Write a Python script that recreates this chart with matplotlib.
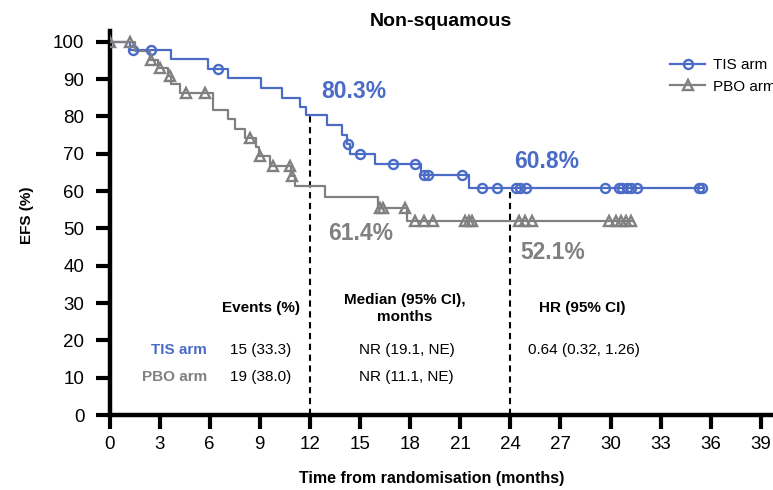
import matplotlib
matplotlib.use("Agg")
import matplotlib.pyplot as plt
from matplotlib.lines import Line2D
import numpy as np

# Kaplan-Meier steps
tis_times = [0, 1.25, 3.7, 5.9, 7.1, 9.05, 10.3, 11.4, 11.75, 13.05, 13.9, 14.2, 14.4, 15.9, 18.65, 21.5]
tis_surv = [100, 97.8, 95.3, 92.7, 90.2, 87.6, 85.0, 82.5, 80.3, 77.7, 75.0, 72.6, 69.9, 67.2, 64.3, 60.8]
tis_end = 35.6
tis_censor = [1.4, 2.5, 6.5, 14.3, 15.0, 17.0, 18.3, 18.85, 19.05, 21.1, 22.3, 23.2,
              24.35, 24.6, 24.95, 29.7, 30.5, 30.7, 31.0, 31.2, 31.6, 35.3, 35.5]

pbo_times = [0, 1.5, 2.4, 2.9, 3.5, 3.7, 4.2, 6.2, 7.1, 7.5, 8.1, 8.8, 8.95, 9.6, 10.85, 11.1, 12.9, 16.1, 17.8]
pbo_surv = [100, 97.6, 95.2, 92.9, 90.7, 88.6, 86.2, 81.8, 79.3, 76.6, 74.2, 71.8, 69.4, 66.6, 63.9, 61.4, 58.5, 55.4, 52.1]
pbo_end = 31.3
pbo_censor = [0.0, 1.25, 2.5, 3.0, 3.6, 4.6, 5.7, 8.4, 9.0, 9.8, 10.8, 10.9, 16.2, 16.4, 17.7,
              18.3, 18.85, 19.4, 21.3, 21.5, 21.7, 24.5, 24.9, 25.3, 29.9, 30.3, 30.6, 30.9, 31.2]

landmarks = [12, 24]
tis_landmark = [80.3, 60.8]
pbo_landmark = [61.4, 52.1]

x_ticks = list(range(0, 40, 3))
y_ticks = list(range(0, 101, 10))

table_header = ["Events (%)", "Median (95% CI),\nmonths", "HR (95% CI)"]
arm_names = ["TIS arm", "PBO arm"]
events = ["15 (33.3)", "19 (38.0)"]
medians = ["NR (19.1, NE)", "NR (11.1, NE)"]
hr_text = "0.64 (0.32, 1.26)"

BLUE = "#4A6CC6"
GRAY = "#808080"

plt.rcParams["font.family"] = ["Liberation Sans", "DejaVu Sans"]


def surv_at(times, surv, t):
    idx = np.searchsorted(times, t, side="right") - 1
    return np.asarray(surv)[idx]


fig = plt.figure(figsize=(7.73, 4.90), dpi=100)
# x: 16.7 px per month from x=109.5 px; y: 3.733 px per % from y=415 px
ax = fig.add_axes([109.5 / 773, 75 / 490, 40 * 16.7 / 773, 103 * 3.733 / 490])

for times, surv, end, cens, color, marker, ms in [
    (tis_times, tis_surv, tis_end, tis_censor, BLUE, "o", 6.5),
    (pbo_times, pbo_surv, pbo_end, pbo_censor, GRAY, "^", 7.5),
]:
    ax.step(list(times) + [end], list(surv) + [surv[-1]], where="post",
            color=color, lw=1.6, zorder=3)
    ax.plot(cens, surv_at(times, surv, cens), ls="none", marker=marker, ms=ms,
            mfc="none", mec=color, mew=1.7, zorder=4)

# landmark dashed lines
for x, y in zip(landmarks, tis_landmark):
    ax.plot([x, x], [0, y], color="black", ls=(0, (3, 2.2)), lw=1.5, zorder=2)

big = 16.5
ax.text(12.65, 86.7, f"{tis_landmark[0]}%", color=BLUE, fontsize=big, fontweight="bold", va="center")
ax.text(13.1, 48.7, f"{pbo_landmark[0]}%", color=GRAY, fontsize=big, fontweight="bold", va="center")
ax.text(24.2, 67.9, f"{tis_landmark[1]}%", color=BLUE, fontsize=big, fontweight="bold", va="center")
ax.text(24.6, 43.4, f"{pbo_landmark[1]}%", color=GRAY, fontsize=big, fontweight="bold", va="center")

# summary table
fs = 11
ax.text(9.05, 28.6, table_header[0], fontsize=fs, fontweight="bold", ha="center", va="center")
ax.text(17.7, 28.6, table_header[1], fontsize=fs, fontweight="bold", ha="center", va="center",
        linespacing=1.25)
ax.text(28.3, 28.6, table_header[2], fontsize=fs, fontweight="bold", ha="center", va="center")
row_y = [17.4, 10.3]
for name, ev, med, col, y in zip(arm_names, events, medians, [BLUE, GRAY], row_y):
    ax.text(5.85, y, name, color=col, fontsize=fs, fontweight="bold", ha="right", va="center")
    ax.text(9.05, y, ev, fontsize=fs, ha="center", va="center")
    ax.text(17.8, y, med, fontsize=fs, ha="center", va="center")
ax.text(28.4, row_y[0], hr_text, fontsize=fs, ha="center", va="center")

ax.set_xlim(0, 40)
ax.set_ylim(0, 103)
ax.set_xticks(x_ticks)
ax.set_yticks(y_ticks)
ax.tick_params(axis="both", direction="out", length=10, width=3, labelsize=13.5)
ax.tick_params(axis="x", pad=5)
ax.tick_params(axis="y", pad=8)
for side in ["top", "right"]:
    ax.spines[side].set_visible(False)
for side in ["left", "bottom"]:
    ax.spines[side].set_linewidth(3.2)

ax.set_xlabel("Time from randomisation (months)", fontsize=11.5, fontweight="bold", va="center")
ax.xaxis.set_label_coords(0.483, -0.164)
ax.set_ylabel("EFS (%)", fontsize=11, fontweight="bold", va="center")
ax.yaxis.set_label_coords(-0.124, 0.52)
fig.text(441 / 773, 1 - 21.7 / 490, "Non-squamous", fontsize=14, fontweight="bold",
         ha="center", va="center")

handles = [
    Line2D([], [], color=BLUE, lw=1.6, marker="o", ms=6.5, mfc="none", mew=1.7),
    Line2D([], [], color=GRAY, lw=1.6, marker="^", ms=7.5, mfc="none", mew=1.7),
]
fig.legend(handles, arm_names, loc="upper left", bbox_to_anchor=(670 / 773, 1 - 58 / 490),
           frameon=False, fontsize=11, handlelength=2.3, handletextpad=0.5,
           labelspacing=0.5, borderpad=0, borderaxespad=0)

fig.savefig("out.png", dpi=100)
